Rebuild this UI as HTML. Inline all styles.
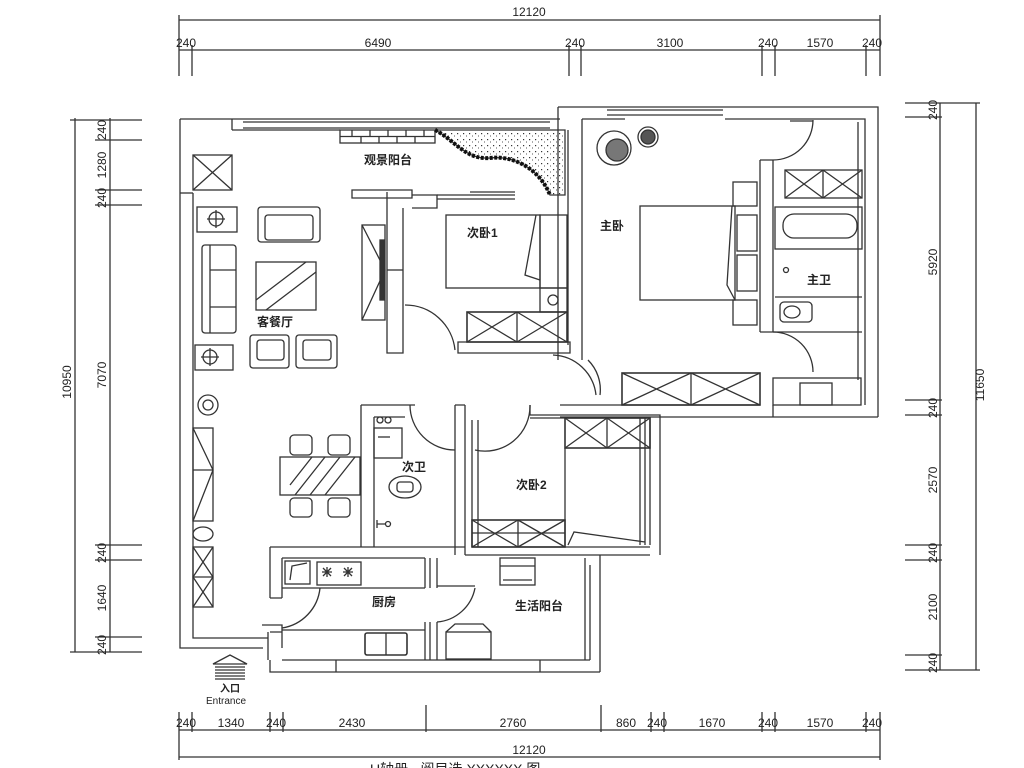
<!DOCTYPE html>
<html><head><meta charset="utf-8"><style>
html,body{margin:0;padding:0;background:#fff;}
svg{display:block}
text{font-family:"Liberation Sans","Noto Sans CJK SC",sans-serif;fill:#222}
.l{font-size:12px;font-weight:bold}
.d{font-size:12px}
</style></head><body>
<svg width="1024" height="768" viewBox="0 0 1024 768" xmlns="http://www.w3.org/2000/svg">
<defs>
<pattern id="dots" width="6" height="6" patternUnits="userSpaceOnUse"><rect x="1" y="1" width="1.2" height="1.2" fill="#333"/><rect x="4" y="3.5" width="1" height="1" fill="#555"/></pattern>
</defs>
<g stroke="#333" stroke-width="1.3" fill="none">
<!-- TOP DIMENSIONS -->
<line x1="179" y1="20" x2="880" y2="20"/>
<line x1="179" y1="50" x2="880" y2="50"/>
<g>
<line x1="179" y1="15" x2="179" y2="76"/><line x1="192" y1="45" x2="192" y2="76"/>
<line x1="569" y1="45" x2="569" y2="76"/><line x1="581" y1="45" x2="581" y2="76"/>
<line x1="762" y1="45" x2="762" y2="76"/><line x1="775" y1="45" x2="775" y2="76"/>
<line x1="866" y1="45" x2="866" y2="76"/><line x1="880" y1="15" x2="880" y2="76"/>
</g>
<!-- BOTTOM DIMENSIONS -->
<line x1="179" y1="730" x2="880" y2="730"/>
<line x1="179" y1="757" x2="880" y2="757"/>
<g>
<line x1="179" y1="712" x2="179" y2="760"/><line x1="192" y1="712" x2="192" y2="732"/>
<line x1="270" y1="712" x2="270" y2="732"/><line x1="283" y1="712" x2="283" y2="732"/>
<line x1="426" y1="705" x2="426" y2="732"/><line x1="601" y1="705" x2="601" y2="732"/>
<line x1="651" y1="712" x2="651" y2="732"/><line x1="664" y1="712" x2="664" y2="732"/>
<line x1="762" y1="712" x2="762" y2="732"/><line x1="775" y1="712" x2="775" y2="732"/>
<line x1="866" y1="712" x2="866" y2="732"/><line x1="880" y1="712" x2="880" y2="760"/>
</g>
<!-- LEFT DIMENSIONS -->
<line x1="75" y1="118" x2="75" y2="652"/>
<line x1="110" y1="118" x2="110" y2="652"/>
<g>
<line x1="70" y1="120" x2="142" y2="120"/><line x1="95" y1="140" x2="142" y2="140"/>
<line x1="95" y1="190" x2="142" y2="190"/><line x1="95" y1="205" x2="142" y2="205"/>
<line x1="95" y1="545" x2="142" y2="545"/><line x1="95" y1="560" x2="142" y2="560"/>
<line x1="95" y1="637" x2="142" y2="637"/><line x1="70" y1="652" x2="142" y2="652"/>
</g>
<!-- RIGHT DIMENSIONS -->
<line x1="940" y1="103" x2="940" y2="670"/>
<line x1="976" y1="103" x2="976" y2="670"/>
<g>
<line x1="905" y1="103" x2="980" y2="103"/><line x1="905" y1="117" x2="942" y2="117"/>
<line x1="905" y1="400" x2="942" y2="400"/><line x1="905" y1="415" x2="942" y2="415"/>
<line x1="905" y1="545" x2="942" y2="545"/><line x1="905" y1="560" x2="942" y2="560"/>
<line x1="905" y1="655" x2="942" y2="655"/><line x1="905" y1="670" x2="980" y2="670"/>
</g>

<!-- ===== PLAN ===== -->
<path d="M180,119 V648 H263"/>
<path d="M193,193 V638 H268"/>
<path d="M180,193 H193"/>
<rect x="193" y="155" width="39" height="35"/><path d="M193,155 L232,190 M232,155 L193,190"/>
<path d="M232,119 V130"/>
<path d="M180,119 H560"/>
<path d="M243,122 H550 M243,128 H550"/>
<path d="M232,130 H340"/>
<rect x="340" y="130" width="95" height="13"/>
<path d="M340,136.5 H435 M352,130 V136.5 M370,130 V136.5 M388,130 V136.5 M406,130 V136.5 M424,130 V136.5 M361,136.5 V143 M379,136.5 V143 M397,136.5 V143 M415,136.5 V143"/>
<path d="M435,130 H565 V195 H550 C540,170 515,155 490,158 C465,160 455,140 435,130 Z" fill="url(#dots)"/>
<path d="M435,130 C455,140 465,160 490,158 C515,155 540,170 550,195" stroke="#111" stroke-width="4" stroke-dasharray="3 1.5"/>
<path d="M558,107 V360 M568,130 V345 M582,119 V360"/>
<path d="M558,107 H878 V417"/>
<path d="M582,119 H625 M725,119 H865 V405"/>
<path d="M607,110 H723 M607,115 H723"/>
<path d="M858,122 V380"/>
<path d="M760,160 V332 M773,160 V332"/>
<path d="M760,160 H773 M760,332 H773"/>
<path d="M773,160 A40,40 0 0 0 813,120 M790,121 H813"/>
<path d="M773,332 A40,40 0 0 1 813,372"/>
<path d="M862,332 H773"/>
<rect x="785" y="170" width="77" height="28"/><path d="M785,170 L823,198 M823,170 L785,198 M823,170 V198 M823,170 L862,198 M862,170 L823,198"/>
<rect x="775" y="207" width="87" height="42"/>
<rect x="783" y="214" width="74" height="24" rx="11"/>
<path d="M775,297 H862"/>
<rect x="780" y="302" width="32" height="20" rx="4"/><ellipse cx="792" cy="312" rx="8" ry="6"/>
<circle cx="786" cy="270" r="2.5"/>
<rect x="773" y="378" width="88" height="27"/>
<rect x="800" y="383" width="32" height="22"/>
<rect x="640" y="206" width="95" height="94"/>
<rect x="733" y="182" width="24" height="24"/><rect x="733" y="300" width="24" height="25"/>
<rect x="737" y="215" width="20" height="36"/><rect x="737" y="255" width="20" height="36"/>
<path d="M732,206 L727,285 L735,300"/>
<rect x="622" y="373" width="138" height="32" stroke-width="1.6"/>
<path d="M622,373 L691,405 M691,373 L622,405 M691,373 V405 M691,373 L760,405 M760,373 L691,405"/>
<path d="M560,405 H760 M560,417 H878 M773,405 V417"/>
<circle cx="614" cy="148" r="17"/><circle cx="617" cy="150" r="11" fill="#777"/>
<circle cx="648" cy="137" r="10"/><circle cx="648" cy="137" r="7" fill="#555"/>
<path d="M588,360 A42,42 0 0 1 600,395"/>
<path d="M352,190 H412 V198 H352 Z"/>
<path d="M412,195 H437 V208 H412"/>
<path d="M437,195 H515 M437,199 H515 M470,192 H515"/>
<path d="M387,192 V353 H403 V208"/>
<path d="M387,270 H403"/>
<rect x="362" y="225" width="23" height="95"/>
<path d="M362,225 L385,270 L362,320"/>
<rect x="380" y="240" width="4" height="60" fill="#333"/>
<rect x="446" y="215" width="94" height="73"/>
<rect x="540" y="215" width="27" height="73"/>
<path d="M536,215 L525,275 L540,280"/>
<rect x="540" y="288" width="27" height="24"/><circle cx="553" cy="300" r="5"/>
<rect x="467" y="312" width="100" height="30" stroke-width="1.6"/>
<path d="M467,312 L517,342 M517,312 L467,342 M517,312 V342 M517,312 L567,342 M567,312 L517,342"/>
<path d="M458,342 H570 V353 H458 Z"/>
<path d="M405,305 A50,50 0 0 1 455,350"/>
<path d="M553,355 A45,45 0 0 1 596,395"/>
<path d="M530,405 A45,45 0 0 1 475,450"/>
<rect x="258" y="207" width="62" height="35" rx="3"/><rect x="265" y="215" width="48" height="25" rx="3"/>
<rect x="256" y="262" width="60" height="48"/><path d="M256,300 L306,262 M266,310 L316,272"/>
<rect x="202" y="245" width="34" height="88" rx="3"/><path d="M210,245 V333 M210,270 H236 M210,307 H236"/>
<rect x="197" y="207" width="40" height="25"/><circle cx="216" cy="219" r="7"/><path d="M207,219 H225 M216,210 V228"/>
<rect x="195" y="345" width="38" height="25"/><circle cx="210" cy="357" r="7"/><path d="M201,357 H219 M210,348 V366"/>
<rect x="250" y="335" width="39" height="33" rx="3"/><rect x="257" y="340" width="27" height="20" rx="3"/>
<rect x="296" y="335" width="41" height="33" rx="3"/><rect x="303" y="340" width="28" height="20" rx="3"/>
<circle cx="208" cy="405" r="10"/><circle cx="208" cy="405" r="5"/>
<rect x="193" y="428" width="20" height="93"/><path d="M193,428 L213,470 L193,521 M193,470 H213"/>
<ellipse cx="203" cy="534" rx="10" ry="7"/>
<rect x="193" y="547" width="20" height="60"/><path d="M193,547 L213,577 L193,607 M213,547 L193,577 L213,607 M193,577 H213"/>
<rect x="280" y="457" width="80" height="38"/>
<path d="M295,495 L325,457 M310,495 L340,457 M325,495 L355,457 M290,485 L312,457"/>
<rect x="290" y="435" width="22" height="20" rx="4"/><rect x="328" y="435" width="22" height="20" rx="4"/>
<rect x="290" y="498" width="22" height="19" rx="4"/><rect x="328" y="498" width="22" height="19" rx="4"/>
<path d="M361,405 H415 M361,405 V547 M374,417 V547 M374,417 H405"/>
<path d="M410,405 A45,45 0 0 0 455,450"/>
<path d="M455,405 V555 M465,405 V555 M455,405 H465 M472,420 V547 M478,420 V547"/>
<rect x="374" y="428" width="28" height="30"/><path d="M378,437 H390"/>
<circle cx="380" cy="420" r="3"/><circle cx="388" cy="420" r="3"/>
<ellipse cx="405" cy="487" rx="16" ry="11"/><rect x="397" y="482" width="16" height="10" rx="3"/>
<path d="M377,520 V528 M377,524 H385"/><circle cx="388" cy="524" r="2.5"/>
<path d="M530,405 V415 H660 V555 M530,418 H650 V545"/>
<rect x="565" y="418" width="85" height="30" stroke-width="1.6"/>
<path d="M565,418 L607,448 M607,418 L565,448 M607,418 V448 M607,418 L650,448 M650,418 L607,448"/>
<path d="M565,448 V545"/>
<rect x="472" y="520" width="93" height="27" stroke-width="1.6"/>
<path d="M472,520 L518,547 M518,520 L472,547 M518,520 V547 M518,520 L565,547 M565,520 L518,547 M472,533 H565"/>
<path d="M568,545 L574,532 L645,542 M640,418 V545 M645,418 V545"/>
<path d="M472,547 H650"/>
<path d="M270,547 H465 M270,547 V598 M282,558 V598 M282,558 H425 M270,598 H282"/>
<path d="M465,555 H600"/>
<rect x="285" y="561" width="25" height="23"/><path d="M290,580 L292,566 L307,563"/>
<rect x="317" y="562" width="44" height="23"/>
<path d="M322,572 L332,572 M327,567 L327,577 M323,568 L331,576 M331,568 L323,576 M343,572 L353,572 M348,567 L348,577 M344,568 L352,576 M352,568 L344,576"/>
<path d="M282,588 H425"/>
<path d="M425,558 V588 M430,558 V588 M437,558 V588"/>
<path d="M320,588 A45,45 0 0 1 282,628"/>
<path d="M475,588 A42,42 0 0 1 437,622"/>
<path d="M437,586 H475"/>
<path d="M262,625 H282 V648 M268,632 V660 M270,632 H282"/>
<path d="M282,630 H425"/>
<path d="M425,622 V660 M430,622 V660 M437,622 V660"/>
<rect x="365" y="633" width="42" height="22" rx="2" stroke-width="1.6"/><path d="M386,633 V655"/>
<path d="M270,660 V672 H600 M282,660 H590 M336,660 V672 M540,660 V672"/>
<path d="M585,558 V660 M590,565 V660 M600,555 V672"/>
<rect x="500" y="558" width="35" height="27"/><path d="M500,566 H535 M503,580 H532"/>
<rect x="446" y="632" width="45" height="27"/>
<path d="M446,632 L455,624 H483 L491,632"/>
<path d="M600,555 H650"/>
<path d="M213,664 L230,655 L247,664 Z"/>
<path d="M215,667 H245 M215,670 H245 M215,673 H245 M215,676 H245 M215,679 H245"/>
</g>

<text class="l" x="364" y="164">观景阳台</text>
<text class="l" x="467" y="237">次卧1</text>
<text class="l" x="600" y="230">主卧</text>
<text class="l" x="807" y="284">主卫</text>
<text class="l" x="257" y="326">客餐厅</text>
<text class="l" x="402" y="471">次卫</text>
<text class="l" x="516" y="489">次卧2</text>
<text class="l" x="372" y="606">厨房</text>
<text class="l" x="515" y="610">生活阳台</text>
<text x="220" y="692" style="font-size:10px;font-weight:bold">入口</text>
<text x="206" y="704" style="font-size:10px">Entrance</text>

<g class="d" text-anchor="middle">
<text x="529" y="16">12120</text>
<text x="186" y="47">240</text><text x="378" y="47">6490</text><text x="575" y="47">240</text>
<text x="670" y="47">3100</text><text x="768" y="47">240</text><text x="820" y="47">1570</text><text x="872" y="47">240</text>
<text x="186" y="727">240</text><text x="231" y="727">1340</text><text x="276" y="727">240</text>
<text x="352" y="727">2430</text><text x="513" y="727">2760</text><text x="626" y="727">860</text>
<text x="657" y="727">240</text><text x="712" y="727">1670</text><text x="768" y="727">240</text>
<text x="820" y="727">1570</text><text x="872" y="727">240</text>
<text x="529" y="754">12120</text>
</g>
<g class="d" text-anchor="middle">
<text transform="translate(106,130) rotate(-90)">240</text>
<text transform="translate(106,165) rotate(-90)">1280</text>
<text transform="translate(106,198) rotate(-90)">240</text>
<text transform="translate(106,375) rotate(-90)">7070</text>
<text transform="translate(106,553) rotate(-90)">240</text>
<text transform="translate(106,598) rotate(-90)">1640</text>
<text transform="translate(106,645) rotate(-90)">240</text>
<text transform="translate(71,382) rotate(-90)">10950</text>
<text transform="translate(937,110) rotate(-90)">240</text>
<text transform="translate(937,262) rotate(-90)">5920</text>
<text transform="translate(937,408) rotate(-90)">240</text>
<text transform="translate(937,480) rotate(-90)">2570</text>
<text transform="translate(937,553) rotate(-90)">240</text>
<text transform="translate(937,607) rotate(-90)">2100</text>
<text transform="translate(937,663) rotate(-90)">240</text>
<text transform="translate(984,385) rotate(-90)">11650</text>
</g>
<text x="370" y="774" style="font-size:14px">U轴册 · 阅目选 XXXXXX 图</text>
</svg>
</body></html>
